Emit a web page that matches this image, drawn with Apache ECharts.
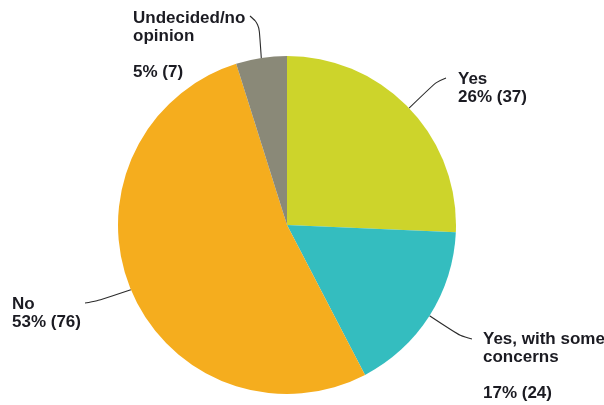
<!DOCTYPE html>
<html>
<head>
<meta charset="utf-8">
<script src="https://cdn.jsdelivr.net/npm/echarts@6/dist/echarts.min.js"></script>
<style>
  html, body { margin: 0; padding: 0; background: #fff; }
  #chart { width: 604px; height: 405px; }
</style>
</head>
<body>
<div id="chart"></div>
<script>
// Survey responses
const categories = ['Yes', 'Yes, with some\nconcerns', 'No', 'Undecided/no\nopinion'];
const counts = [37, 24, 76, 7];
const colors = ['#cdd42b', '#34bdbf', '#f5ad1e', '#8a8978'];

// Label placement (top-left of each label block)
const labelSpots = [
  { x: 458, y: 70 },
  { x: 483, y: 330 },
  { x: 12, y: 295 },
  { x: 133, y: 9 }
];
// Where each leader line bends and ends, next to the first text line
const leaderBends = [[436, 82], [460, 336], [97, 301], [259, 24]];
const leaderEnds = [[446, 78], [472, 339], [85, 303], [250, 16]];
// Whether a blank line separates the name from the value
const gapBeforeValue = [false, true, false, true];

const total = counts.reduce((a, b) => a + b, 0);

const chart = echarts.init(document.getElementById('chart'), null, { renderer: 'canvas' });
chart.setOption({
  animation: false,
  backgroundColor: '#ffffff',
  series: [{
    type: 'pie',
    center: [287, 225],
    radius: 169,
    startAngle: 90,
    clockwise: true,
    data: categories.map((name, i) => ({
      name: name,
      value: counts[i],
      itemStyle: { color: colors[i] }
    })),
    label: {
      show: true,
      fontFamily: 'Liberation Sans, Arial, sans-serif',
      fontWeight: 'bold',
      fontSize: 17,
      lineHeight: 18,
      color: '#1b1b22',
      formatter: function (p) {
        const pct = Math.round(p.value / total * 100);
        const sep = gapBeforeValue[p.dataIndex] ? '\n\n' : '\n';
        return p.name + sep + pct + '% (' + p.value + ')';
      }
    },
    labelLine: {
      show: true,
      smooth: 0.35,
      length: 15,
      length2: 20,
      lineStyle: { color: '#2b2b2b', width: 1.1 }
    },
    labelLayout: function (params) {
      const i = params.dataIndex;
      const s = labelSpots[i];
      const pts = params.labelLinePoints;
      const out = { x: s.x, y: s.y, align: 'left', verticalAlign: 'top' };
      if (pts && pts.length) {
        out.labelLinePoints = [pts[0], leaderBends[i], leaderEnds[i]];
      }
      return out;
    },
    emphasis: { disabled: true }
  }]
});
</script>
</body>
</html>
